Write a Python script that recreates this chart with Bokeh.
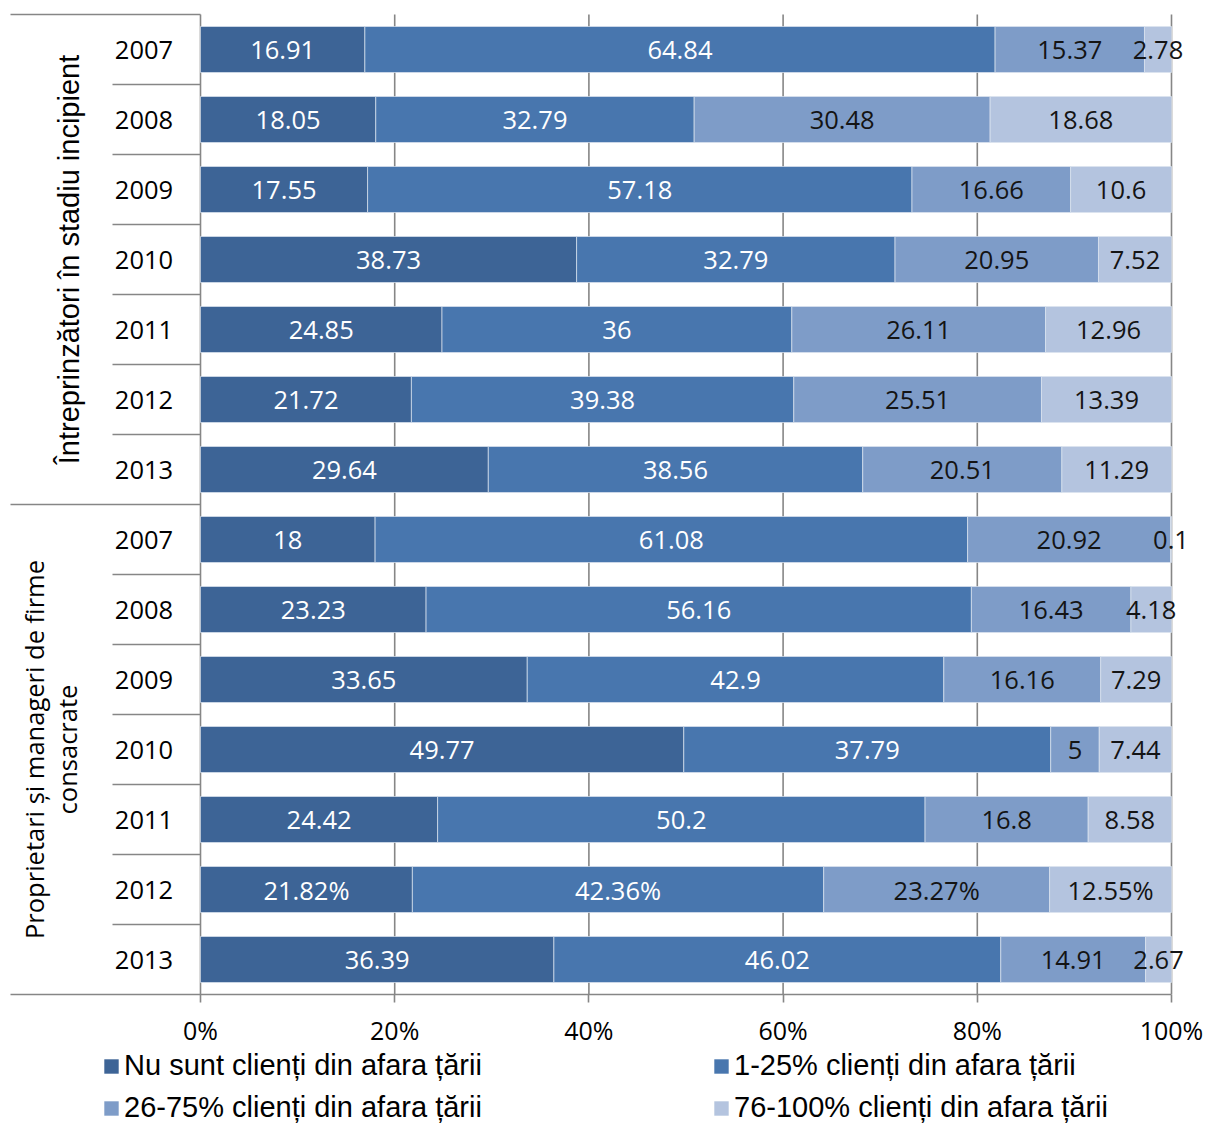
import math
from bokeh.plotting import figure
from bokeh.layouts import column
from bokeh.models import ColumnDataSource, Legend, LegendItem, FixedTicker, Range1d
from bokeh.core.properties import value
from bokeh.embed import file_html
from bokeh.resources import INLINE

# ---------------- data ----------------
groups = ["Întreprinzători în stadiu incipient",
          "Proprietari și manageri de firme\nconsacrate"]
years = ["2007", "2008", "2009", "2010", "2011", "2012", "2013"]
series_names = ["Nu sunt clienți din afara țării", "1-25% clienți din afara țării",
                "26-75% clienți din afara țării", "76-100% clienți din afara țării"]
# rows: incipient 2007..2013, then established 2007..2013
nu_sunt = [16.91, 18.05, 17.55, 38.73, 24.85, 21.72, 29.64,
           18, 23.23, 33.65, 49.77, 24.42, 21.82, 36.39]
p1_25 = [64.84, 32.79, 57.18, 32.79, 36, 39.38, 38.56,
         61.08, 56.16, 42.9, 37.79, 50.2, 42.36, 46.02]
p26_75 = [15.37, 30.48, 16.66, 20.95, 26.11, 25.51, 20.51,
          20.92, 16.43, 16.16, 5, 16.8, 23.27, 14.91]
p76_100 = [2.78, 18.68, 10.6, 7.52, 12.96, 13.39, 11.29,
           0.1, 4.18, 7.29, 7.44, 8.58, 12.55, 2.67]
label_suffix = ["", "", "", "", "", "", "",
                "", "", "", "", "", "%", ""]
tick_values = [0, 20, 40, 60, 80, 100]
tick_labels = ["0%", "20%", "40%", "60%", "80%", "100%"]

colors = ["#3D6496", "#4876AE", "#7E9CC8", "#B4C4DF"]
label_colors = ["white", "white", "#141414", "#141414"]

# ---------------- geometry (px) ----------------
W, H = 1207, 1125
H1 = 1050                       # main figure height (frame + axis)
PX0, PX100 = 200, 1171          # x of 0% and 100%
ppu = (PX100 - PX0) / 100.0
FRAME_H = 994                   # frame bottom = axis line
ROW_PX = 70
n_rows = len(nu_sunt)

def xd(px):
    return (px - PX0) / ppu

x_start, x_end = xd(0), xd(W)
y_top = FRAME_H / ROW_PX

p = figure(width=W, height=H1, output_backend="svg", toolbar_location=None,
           x_range=Range1d(x_start, x_end), y_range=Range1d(0, y_top),
           y_axis_location=None, min_border_left=0, min_border_right=0,
           min_border_top=0, min_border_bottom=H1 - FRAME_H)
p.outline_line_color = None
p.xgrid.visible = False
p.ygrid.visible = False

grid_col = "#868686"
# vertical grid lines (behind bars)
p.segment(x0=tick_values, y0=[0] * len(tick_values), x1=tick_values,
          y1=[n_rows] * len(tick_values), line_color=grid_col, line_width=1.6)

# ---------------- bars ----------------
all_series = [nu_sunt, p1_25, p26_75, p76_100]
totals = [sum(s[i] for s in all_series) for i in range(n_rows)]
ys = [n_rows - i - 0.5 for i in range(n_rows)]
cum = [0.0] * n_rows
sources = []
label_font = value("Open Sans")
for k, s in enumerate(all_series):
    left = cum[:]
    right = [cum[i] + s[i] / totals[i] * 100 for i in range(n_rows)]
    cum = right
    labels = [f"{s[i]:g}" + label_suffix[i] for i in range(n_rows)]
    src = ColumnDataSource(dict(y=ys, left=left, right=right,
                                mid=[(l + r) / 2 for l, r in zip(left, right)],
                                label=labels))
    p.hbar(y="y", left="left", right="right", height=46 / ROW_PX, source=src,
           fill_color=colors[k], line_color="#dbe4f0", line_width=1, line_alpha=0.7)
    sources.append(src)

for k, src in enumerate(sources):
    p.text(x="mid", y="y", text="label", source=src, text_align="center",
           text_baseline="middle", text_color=label_colors[k],
           text_font=label_font, text_font_size="25.5px")

# ---------------- category-axis lines ----------------
sep_y = [n_rows - k for k in range(1, n_rows) if k != 7]
p.segment(x0=[xd(112)] * len(sep_y), y0=sep_y, x1=[0] * len(sep_y), y1=sep_y,
          line_color=grid_col, line_width=1.6)
grp_y = [n_rows, 7]
p.segment(x0=[xd(10)] * 2, y0=grp_y, x1=[0] * 2, y1=grp_y,
          line_color=grid_col, line_width=1.6)

# year labels
p.text(x=[xd(143.5)] * n_rows, y=ys, text=years + years, text_align="center",
       text_baseline="middle", text_color="black", text_font=label_font,
       text_font_size="25.5px")

# group labels (rotated)
p.text(x=[xd(68)], y=[10.5], text=[groups[0]], angle=math.pi / 2,
       text_align="center", text_baseline="middle", text_color="black",
       text_font=value("Liberation Sans"), text_font_size="29px")
p.text(x=[xd(50)], y=[3.5], text=[groups[1]], angle=math.pi / 2,
       text_align="center", text_baseline="middle", text_color="black",
       text_font=label_font, text_font_size="25.5px", text_line_height=0.98)

# ---------------- x axis ----------------
ax = p.xaxis[0]
ax.ticker = FixedTicker(ticks=tick_values)
ax.major_label_overrides = {v: t for v, t in zip(tick_values, tick_labels)}
ax.bounds = (xd(10), 100)
ax.axis_line_color = grid_col
ax.axis_line_width = 1.6
ax.major_tick_line_color = grid_col
ax.major_tick_line_width = 1.6
ax.major_tick_out = 8
ax.major_tick_in = 0
ax.minor_tick_line_color = None
ax.major_label_standoff = 10
ax.major_label_text_font = "Open Sans"
ax.major_label_text_font_size = "25px"
ax.major_label_text_color = "black"

# ---------------- legend (own strip below) ----------------
H2 = H - H1
q = figure(width=W, height=H2, output_backend="svg", toolbar_location=None,
           x_range=Range1d(0, 1), y_range=Range1d(0, 1),
           x_axis_location=None, y_axis_location=None,
           min_border_left=0, min_border_right=0, min_border_top=0, min_border_bottom=0)
q.outline_line_color = None
q.border_fill_color = "white"
q.xgrid.visible = False
q.ygrid.visible = False
# legend-only renderers (their single bar lies far outside the visible range)
leg_r = [q.hbar(y=[50], left=[50], right=[51], height=0.5, fill_color=c, line_color=None)
         for c in colors]

def make_legend(idx, x_px):
    lg = Legend(items=[LegendItem(label=series_names[i], renderers=[leg_r[i]]) for i in idx],
                location=(x_px, 1), orientation="vertical",
                label_text_font="Liberation Sans", label_text_font_size="29px",
                label_text_color="black", glyph_width=18, glyph_height=18,
                label_standoff=4, spacing=9, padding=0, margin=0,
                border_line_color=None, background_fill_alpha=0,
                label_height=20)
    q.add_layout(lg, "center")

make_legend([0, 2], 102)
make_legend([1, 3], 712)

layout = column(p, q, spacing=0)
open("out.html", "w").write(file_html(layout, INLINE))
